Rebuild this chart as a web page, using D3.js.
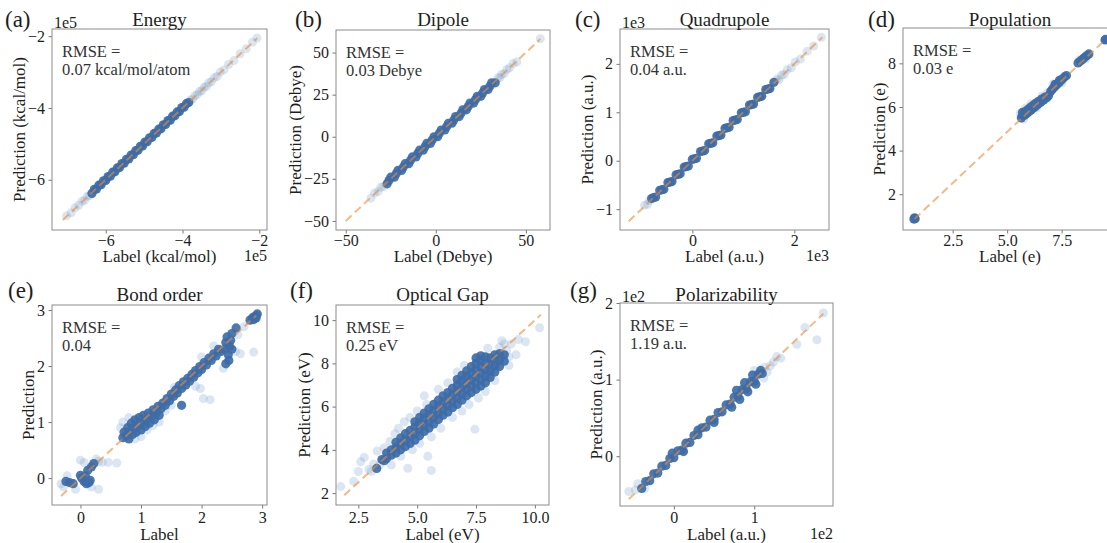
<!DOCTYPE html>
<html>
<head>
<meta charset="utf-8">
<script src="https://cdn.jsdelivr.net/npm/d3@7"></script>
<style>
  body { margin: 0; background: #fff; }
  svg { display: block; }
  svg text { font-family: "Liberation Serif", "DejaVu Serif", "Times New Roman", serif; }
</style>
</head>
<body>
<svg id="fig" width="1107" height="543"></svg>
<script>
// values, [label, prediction]
// energy in 1e5, quadrupole in 1e3, polarizability in 1e2 (the offset shown on the axes)

const energyCore = [[-6.36,-6.38],[-6.3,-6.27],[-6.24,-6.26],[-6.18,-6.15],[-6.12,-6.14],[-6.06,-6.03],[-6.0,-6.02],[-5.94,-5.91],[-5.88,-5.9],[-5.82,-5.79],[-5.76,-5.78],[-5.7,-5.67],[-5.64,-5.66],[-5.58,-5.55],[-5.52,-5.54],[-5.46,-5.43],[-5.4,-5.42],[-5.34,-5.31],[-5.28,-5.3],[-5.22,-5.19],[-5.16,-5.18],[-5.1,-5.07],[-5.04,-5.06],[-4.98,-4.95],[-4.92,-4.94],[-4.86,-4.83],[-4.8,-4.82],[-4.74,-4.71],[-4.68,-4.7],[-4.62,-4.59],[-4.56,-4.58],[-4.5,-4.47],[-4.44,-4.46],[-4.38,-4.35],[-4.32,-4.34],[-4.26,-4.23],[-4.2,-4.22],[-4.14,-4.11],[-4.08,-4.1],[-4.02,-3.99],[-3.96,-3.98],[-3.9,-3.88],[-3.84,-3.85]]
const energySparse = [[-7.02,-7.0],[-6.9,-6.92],[-6.8,-6.78],[-6.7,-6.71],[-6.62,-6.6],[-6.55,-6.57],[-6.48,-6.46],[-6.42,-6.44],[-3.8,-3.78],[-3.74,-3.76],[-3.68,-3.66],[-3.62,-3.63],[-3.56,-3.54],[-3.5,-3.52],[-3.44,-3.42],[-3.38,-3.4],[-3.32,-3.3],[-3.25,-3.27],[-3.18,-3.16],[-3.1,-3.12],[-3.02,-3.0],[-2.92,-2.94],[-2.8,-2.79],[-2.66,-2.68],[-2.5,-2.49],[-2.34,-2.35],[-2.18,-2.17],[-2.06,-2.05]]
const energyDiag = [[-7.12,-7.12],[-2.05,-2.05]]

const dipoleCore = [[-27,-28],[-25,-24],[-23,-24],[-21,-20],[-19,-20],[-17,-16],[-15,-16],[-13,-12],[-11,-12],[-9,-8],[-7,-8],[-5,-4],[-3,-4],[-1,0],[1,0],[3,4],[5,4],[7,8],[9,8],[11,12],[13,12],[15,16],[17,16],[19,20],[21,20],[23,24],[25,24],[27,28],[29,28],[31,32],[33,32],
  [-26,-26],[-22,-22],[-18,-18],[-14,-14],[-10,-10],[-6,-6],[-2,-2],[2,2],[6,6],[10,10],[14,14],[18,18],[22,22],[26,26],[30,30]]
const dipoleSparse = [[-36,-36.5],[-34,-33.5],[-32,-32.5],[-30.5,-30],[-29,-29.5],[34.5,35],[35.5,35],[36.5,37],[38,37.5],[39.5,40],[41,41],[43,43.5],[45,44.5],[58,58.2]]
const dipoleDiag = [[-50,-50],[58,58]]

const quadCore = [[-0.8,-0.78],[-0.72,-0.75],[-0.64,-0.61],[-0.56,-0.59],[-0.48,-0.45],[-0.4,-0.43],[-0.32,-0.29],[-0.24,-0.27],[-0.16,-0.13],[-0.08,-0.11],[0,0.03],[0.08,0.05],[0.16,0.19],[0.24,0.21],[0.32,0.35],[0.4,0.37],[0.48,0.51],[0.56,0.53],[0.64,0.67],[0.72,0.69],[0.8,0.83],[0.88,0.85],[0.96,0.99],[1.04,1.01],[1.12,1.15],[1.2,1.17],[1.28,1.31],[1.36,1.33],[1.44,1.47],[1.52,1.49],[1.6,1.62],
  [-0.76,-0.76],[-0.6,-0.6],[-0.44,-0.44],[-0.28,-0.28],[-0.12,-0.12],[0.04,0.04],[0.2,0.2],[0.36,0.36],[0.52,0.52],[0.68,0.68],[0.84,0.84],[1.0,1.0],[1.16,1.16],[1.32,1.32],[1.48,1.48]]
const quadSparse = [[-0.94,-0.92],[-0.88,-0.9],[-0.84,-0.82],[1.66,1.69],[1.7,1.67],[1.75,1.77],[1.8,1.78],[1.86,1.88],[1.94,1.92],[2.02,2.04],[2.12,2.1],[2.25,2.26],[2.38,2.37],[2.53,2.55]]
const quadDiag = [[-1.25,-1.25],[2.55,2.55]]

const popCore = [[0.72,0.86],[0.78,0.88],[0.75,0.92],
  [5.65,5.5],[5.72,5.6],[5.7,5.75],[5.8,5.62],[5.82,5.78],[5.9,5.7],[5.92,5.86],[6.0,5.78],[6.02,5.94],[6.1,5.86],[6.12,6.02],[6.2,5.95],[6.22,6.1],[6.3,6.02],[6.32,6.18],[6.42,6.12],[6.44,6.26],[6.55,6.22],[6.58,6.36],[6.68,6.32],[6.72,6.44],[6.82,6.42],[6.9,6.52],
  [7.0,6.72],[7.08,6.82],[7.16,6.9],[7.24,6.98],[7.32,7.06],[7.4,7.14],[7.48,7.22],[7.56,7.3],[7.64,7.38],[7.72,7.44],[7.2,7.04],[7.4,7.22],
  [8.25,8.02],[8.35,8.1],[8.45,8.18],[8.55,8.27],[8.65,8.35],[8.75,8.43],
  [9.49,9.07],[9.52,9.1]]
const popSparse = [[5.6,5.7],[5.75,5.45],[5.85,5.95],[6.1,6.15],[6.35,5.95],[6.6,6.5],[6.85,6.65],[7.1,7.05],[7.5,7.1],[8.3,8.15],[8.6,8.2]]
const popDiag = [[0.75,0.87],[9.5,9.08]]

const bondCore = [[0.02,0.0],[0.06,-0.06],[0.1,-0.1],[0.14,-0.08],[0.08,0.04],[0.0,0.05],[-0.18,-0.08],[-0.12,-0.1],[-0.24,-0.06],[0.12,0.14],[0.18,0.2],[0.22,0.26],[0.16,-0.04],
  [0.7,0.72],[0.72,0.82],[0.76,0.76],[0.78,0.9],[0.8,0.7],[0.82,0.84],[0.84,0.98],[0.86,0.78],[0.88,0.9],[0.9,1.04],[0.92,0.82],[0.95,0.94],[0.97,1.08],[1.0,0.86],[1.02,1.0],[1.04,1.12],[1.07,0.92],[1.09,1.04],[1.12,1.16],[1.14,0.98],[1.17,1.1],[1.2,1.22],[1.22,1.04],[1.25,1.16],[1.28,1.28],[1.3,1.12],[1.33,1.24],[1.36,1.34],[1.4,1.3],[1.43,1.42],[1.47,1.38],[1.5,1.5],[1.54,1.46],[1.57,1.57],[1.6,1.52],[1.63,1.65],[1.67,1.6],[1.7,1.72],[1.74,1.66],[1.77,1.78],[1.8,1.73],[1.84,1.85],[1.87,1.8],[1.9,1.92],[1.94,1.88],[1.97,1.99],[2.0,1.94],[2.04,2.06],[2.08,2.02],[2.12,2.14],[2.16,2.1],[2.2,2.22],[2.24,2.18],[2.28,2.3],[2.32,2.26],
  [1.67,1.3],
  [2.38,2.3],[2.4,2.42],[2.42,2.52],[2.44,2.2],[2.46,2.36],[2.48,2.46],[2.5,2.58],[2.45,2.1],[2.4,2.04],[2.5,2.3],[2.57,2.68],
  [2.8,2.82],[2.84,2.86],[2.87,2.88],[2.9,2.9],[2.92,2.93],[2.86,2.83],[2.9,2.86]]
const bondSparse = [[-0.32,-0.1],[-0.28,-0.16],[-0.22,0.04],[-0.08,-0.2],[0.0,0.32],[0.06,0.28],[0.18,-0.16],[0.3,-0.2],[0.3,0.3],[0.36,0.28],[0.46,0.28],[0.6,0.27],[0.26,0.34],[0.66,0.9],[0.7,1.0],[0.8,1.08],[0.9,0.7],[1.0,0.74],[1.1,0.86],[1.2,0.94],[1.3,1.0],[1.4,1.2],[1.5,1.3],[1.55,1.62],[1.98,1.6],[1.9,1.64],[2.03,1.42],[2.14,1.4],[2.0,2.16],[2.2,2.36],[2.56,2.26],[2.64,2.22],[2.86,2.25],[2.36,1.96],[2.6,2.56],[2.7,2.7]]
const bondDiag = [[-0.32,-0.32],[2.9,2.9]]

const gapCore = [[3.28,3.14],[3.5,3.55],[3.6,3.5],[3.7,3.6],[3.7,3.85],[3.9,3.75],[3.9,4.0],
  [4.1,3.85],[4.1,4.1],[4.1,4.35],[4.3,4.0],[4.3,4.3],[4.3,4.55],[4.5,4.15],[4.5,4.45],[4.5,4.75],[4.7,4.3],[4.7,4.6],[4.7,4.9],
  [4.9,4.45],[4.9,4.75],[4.9,5.05],[4.9,5.3],[5.1,4.65],[5.1,4.95],[5.1,5.25],[5.1,5.5],[5.3,4.85],[5.3,5.15],[5.3,5.45],[5.3,5.7],
  [5.5,5.0],[5.5,5.3],[5.5,5.6],[5.5,5.9],[5.7,5.2],[5.7,5.5],[5.7,5.8],[5.7,6.1],[5.9,5.4],[5.9,5.7],[5.9,6.0],[5.9,6.3],
  [6.1,5.6],[6.1,5.9],[6.1,6.2],[6.1,6.5],[6.3,5.75],[6.3,6.05],[6.3,6.35],[6.3,6.65],[6.5,5.95],[6.5,6.25],[6.5,6.55],[6.5,6.85],
  [6.7,6.1],[6.7,6.4],[6.7,6.7],[6.7,7.0],[6.7,7.25],[6.9,6.3],[6.9,6.6],[6.9,6.9],[6.9,7.2],[6.9,7.45],
  [7.1,6.5],[7.1,6.8],[7.1,7.1],[7.1,7.4],[7.1,7.65],[7.3,6.65],[7.3,6.95],[7.3,7.25],[7.3,7.55],[7.3,7.85],
  [7.5,6.8],[7.5,7.1],[7.5,7.4],[7.5,7.7],[7.5,8.0],[7.5,8.25],[7.7,6.95],[7.7,7.25],[7.7,7.55],[7.7,7.85],[7.7,8.15],[7.7,8.35],
  [7.9,7.1],[7.9,7.4],[7.9,7.7],[7.9,8.0],[7.9,8.3],[8.1,7.35],[8.1,7.65],[8.1,7.95],[8.1,8.25],
  [8.3,7.6],[8.3,7.9],[8.3,8.2],[8.3,8.4],[8.5,7.85],[8.5,8.15],[8.5,8.45],[8.7,8.1],[8.7,8.4]]
const gapSparse = [[1.75,2.3],[2.3,2.55],[2.5,3.0],[2.6,3.45],[2.75,3.65],[2.95,3.1],[3.05,3.0],[3.15,3.35],[3.3,3.95],[3.4,3.3],[3.6,4.1],[3.85,4.4],[3.9,3.3],[4.05,4.75],[4.3,3.7],[4.6,3.15],[4.2,5.0],[4.45,5.3],[4.7,5.5],[4.8,4.0],[5.0,5.8],[5.1,4.3],[5.3,6.5],[5.4,6.1],[5.45,3.7],[5.6,3.05],[5.6,4.6],[5.9,6.8],[6.0,5.0],[6.3,7.1],[6.5,5.5],[6.7,7.6],[6.9,5.8],[7.0,7.9],[7.2,6.1],[7.45,4.95],[7.6,6.4],[7.9,6.7],[8.0,8.7],[8.3,7.2],[8.5,8.75],[8.6,9.05],[8.8,8.6],[8.9,7.9],[9.0,8.9],[9.2,8.4],[9.3,9.1],[9.6,9.0],[10.2,9.65],[8.7,8.9],[8.9,8.3]]
const gapDiag = [[1.9,1.9],[10.25,10.25]]

const polarCore = [[-0.4,-0.42],[-0.35,-0.33],[-0.3,-0.32],[-0.25,-0.23],[-0.2,-0.22],[-0.15,-0.13],[-0.1,-0.12],[-0.05,-0.03],[0,-0.02],[0.05,0.07],[0.1,0.08],[0.15,0.17],[0.2,0.18],[0.25,0.27],[0.3,0.28],[0.35,0.37],[0.4,0.38],[0.45,0.47],[0.5,0.48],[0.55,0.57],[0.6,0.58],[0.65,0.67],[0.7,0.68],[0.75,0.77],[0.8,0.78],[0.85,0.87],[0.9,0.88],[0.95,0.97],[1.0,0.98],[1.05,1.07],[1.1,1.08],
  [0.72,0.64],[0.82,0.74],[0.92,0.84],[1.02,0.94],[0.78,0.86],[0.88,0.96],[0.98,1.06],[1.08,1.12],[-0.02,0.04],[0.12,0.06],[0.3,0.34],[0.5,0.44]]
const polarSparse = [[-0.56,-0.46],[-0.48,-0.44],[-0.45,-0.36],[-0.36,-0.42],[1.13,1.16],[1.16,1.1],[1.2,1.18],[1.24,1.23],[1.28,1.3],[1.33,1.28],[1.53,1.46],[1.63,1.68],[1.78,1.52],[1.86,1.87],[1.12,1.02],[1.0,1.12]]
const polarDiag = [[-0.56,-0.56],[1.86,1.86]]

// tick values
const energyTicks = [-6, -4, -2]
const dipoleTicks = [-50, -25, 0, 25, 50]
const dipoleXTicks = [-50, 0, 50]
const quadXTicks = [0, 2]
const quadYTicks = [-1, 0, 1, 2]
const popXTicks = [2.5, 5.0, 7.5]
const popYTicks = [2, 4, 6, 8]
const bondTicks = [0, 1, 2, 3]
const gapXTicks = [2.5, 5.0, 7.5, 10.0]
const gapYTicks = [2, 4, 6, 8, 10]
const polarXTicks = [0, 1]
const polarYTicks = [0, 1, 2]

const titles = ['Energy', 'Dipole', 'Quadrupole', 'Population', 'Bond order', 'Optical Gap', 'Polarizability']
const rmseTexts = ['0.07 kcal/mol/atom', '0.03 Debye', '0.04 a.u.', '0.03 e', '0.04', '0.25 eV', '1.19 a.u.']

const rowTop = {tick: 245.5, label: 261.5, title: 25.5, letter: 27}
const rowBot = {tick: 523, label: 540, title: 301, letter: 298}

const panels = [
  {tag: '(a)', lx: 5, row: rowTop, box: [52, 29, 267, 230], xd: [-7.4, -1.8], yd: [-7.4, -1.8], xt: energyTicks, yt: energyTicks, xf: 'd', yf: 'd',
   xlabel: 'Label (kcal/mol)', ylabel: 'Prediction (kcal/mol)', core: energyCore, sparse: energySparse, diag: energyDiag, offset: '1e5'},
  {tag: '(b)', lx: 295, row: rowTop, box: [336, 30, 550, 230], xd: [-55.4, 63.4], yd: [-55.4, 63.4], xt: dipoleXTicks, yt: dipoleTicks, xf: 'd', yf: 'd',
   xlabel: 'Label (Debye)', ylabel: 'Prediction (Debye)', core: dipoleCore, sparse: dipoleSparse, diag: dipoleDiag},
  {tag: '(c)', lx: 575, row: rowTop, box: [620, 29, 829, 230], xd: [-1.42, 2.68], yd: [-1.43, 2.72], xt: quadXTicks, yt: quadYTicks, xf: 'd', yf: 'd',
   xlabel: 'Label (a.u.)', ylabel: 'Prediction (a.u.)', core: quadCore, sparse: quadSparse, diag: quadDiag, offset: '1e3'},
  {tag: '(d)', lx: 868, row: rowTop, box: [903, 28, 1117, 230], xd: [0.22, 10.04], yd: [0.36, 9.62], xt: popXTicks, yt: popYTicks, xf: '.1f', yf: 'd',
   xlabel: 'Label (e)', ylabel: 'Prediction (e)', core: popCore, sparse: popSparse, diag: popDiag},
  {tag: '(e)', lx: 8, row: rowBot, box: [52, 305, 267, 505], xd: [-0.47, 3.08], yd: [-0.48, 3.09], xt: bondTicks, yt: bondTicks, xf: 'd', yf: 'd',
   xlabel: 'Label', ylabel: 'Prediction', core: bondCore, sparse: bondSparse, diag: bondDiag},
  {tag: '(f)', lx: 290, row: rowBot, box: [336, 305, 549, 505], xd: [1.55, 10.6], yd: [1.45, 10.7], xt: gapXTicks, yt: gapYTicks, xf: '.1f', yf: 'd',
   xlabel: 'Label (eV)', ylabel: 'Prediction (eV)', core: gapCore, sparse: gapSparse, diag: gapDiag},
  {tag: '(g)', lx: 570, row: rowBot, box: [620, 303, 833, 506], xd: [-0.67, 1.98], yd: [-0.65, 2.0], xt: polarXTicks, yt: polarYTicks, xf: 'd', yf: 'd',
   xlabel: 'Label (a.u.)', ylabel: 'Prediction (a.u.)', core: polarCore, sparse: polarSparse, diag: polarDiag, offset: '1e2'}
]

const serif = '"Liberation Serif", "DejaVu Serif", "Times New Roman", serif'
const svg = d3.select('#fig').attr('font-family', serif)
const textColor = '#1e1e1e'

// soften the marker edges a little, like the dense clouds in the figure
svg.append('defs').append('filter').attr('id', 'soft')
  .attr('x', '-5%').attr('y', '-5%').attr('width', '110%').attr('height', '110%')
  .append('feGaussianBlur').attr('stdDeviation', 0.7)

panels.forEach(function (p, i) {
  const [x0, y0, x1, y1] = p.box
  const x = d3.scaleLinear().domain(p.xd).range([x0, x1])
  const y = d3.scaleLinear().domain(p.yd).range([y1, y0])
  const g = svg.append('g')

  const clipId = 'clip' + i
  svg.append('clipPath').attr('id', clipId)
    .append('rect').attr('x', x0).attr('y', y0).attr('width', x1 - x0).attr('height', y1 - y0)

  const plot = g.append('g').attr('clip-path', 'url(#' + clipId + ')')
  const marks = plot.append('g').attr('filter', 'url(#soft)')

  // light points first, then the dense core
  marks.selectAll('circle.sparse')
    .data(p.sparse)
    .join('circle')
    .attr('class', 'sparse')
    .attr('cx', d => x(d[0]))
    .attr('cy', d => y(d[1]))
    .attr('r', 4.5)
    .attr('fill', '#6e9acb')
    .attr('fill-opacity', 0.25)

  marks.selectAll('circle.core')
    .data(p.core)
    .join('circle')
    .attr('class', 'core')
    .attr('cx', d => x(d[0]))
    .attr('cy', d => y(d[1]))
    .attr('r', 4.6)
    .attr('fill', '#3d6ca8')
    .attr('fill-opacity', 0.92)

  // y = x guide
  plot.append('path')
    .datum(p.diag)
    .attr('d', d3.line().x(d => x(d[0])).y(d => y(d[1])))
    .attr('fill', 'none')
    .attr('stroke', '#f08a30')
    .attr('stroke-opacity', 0.6)
    .attr('stroke-width', 2)
    .attr('stroke-dasharray', '8,4.5')

  // axes
  const gx = g.append('g')
    .attr('transform', 'translate(0,' + y1 + ')')
    .call(d3.axisBottom(x).tickValues(p.xt).tickFormat(d3.format(p.xf)).tickSize(3.5).tickSizeOuter(0))
  const gy = g.append('g')
    .attr('transform', 'translate(' + x0 + ',0)')
    .call(d3.axisLeft(y).tickValues(p.yt).tickFormat(d3.format(p.yf)).tickSize(3.5).tickPadding(3.5).tickSizeOuter(0))

  ;[gx, gy].forEach(a => {
    a.attr('font-size', 16).attr('font-family', serif)
    a.select('.domain').remove()
    a.selectAll('.tick line').attr('stroke', '#777')
    a.selectAll('.tick text').attr('fill', textColor)
  })
  gx.selectAll('.tick text').attr('y', p.row.tick - y1).attr('dy', null)

  // frame
  g.append('rect')
    .attr('x', x0).attr('y', y0)
    .attr('width', x1 - x0).attr('height', y1 - y0)
    .attr('fill', 'none')
    .attr('stroke', '#8c8c8c')
    .attr('stroke-width', 1)

  // y label sits left of the widest tick label
  let maxW = 0
  gy.selectAll('.tick text').each(function () { maxW = Math.max(maxW, this.getComputedTextLength()) })
  const ly = (y0 + y1) / 2
  const lxPos = x0 - 7 - maxW - 8
  g.append('text')
    .attr('transform', 'translate(' + lxPos + ',' + ly + ') rotate(-90)')
    .attr('text-anchor', 'middle')
    .attr('dy', '0.32em')
    .attr('font-size', 17)
    .attr('fill', textColor)
    .text(p.ylabel)

  g.append('text')
    .attr('x', (x0 + x1) / 2)
    .attr('y', p.row.label)
    .attr('text-anchor', 'middle')
    .attr('font-size', 17)
    .attr('fill', textColor)
    .text(p.xlabel)

  g.append('text')
    .attr('x', (x0 + x1) / 2)
    .attr('y', p.row.title)
    .attr('text-anchor', 'middle')
    .attr('font-size', 19)
    .attr('fill', textColor)
    .text(titles[i])

  g.append('text')
    .attr('x', p.lx)
    .attr('y', p.row.letter)
    .attr('font-size', 23)
    .attr('fill', textColor)
    .text(p.tag)

  const rm = g.append('text')
    .attr('x', x0 + 10)
    .attr('y', y0 + 28)
    .attr('font-size', 16.5)
    .attr('fill', '#333')
  rm.append('tspan').attr('x', x0 + 10).text('RMSE =')
  rm.append('tspan').attr('x', x0 + 10).attr('dy', 18).text(rmseTexts[i])

  if (p.offset) {
    g.append('text')
      .attr('x', x0 + 2)
      .attr('y', y0 - 1)
      .attr('font-size', 16)
      .attr('fill', textColor)
      .text(p.offset)
    g.append('text')
      .attr('x', x1)
      .attr('y', p.row.label - 1)
      .attr('text-anchor', 'end')
      .attr('font-size', 16)
      .attr('fill', textColor)
      .text(p.offset)
  }
})
</script>
</body>
</html>
